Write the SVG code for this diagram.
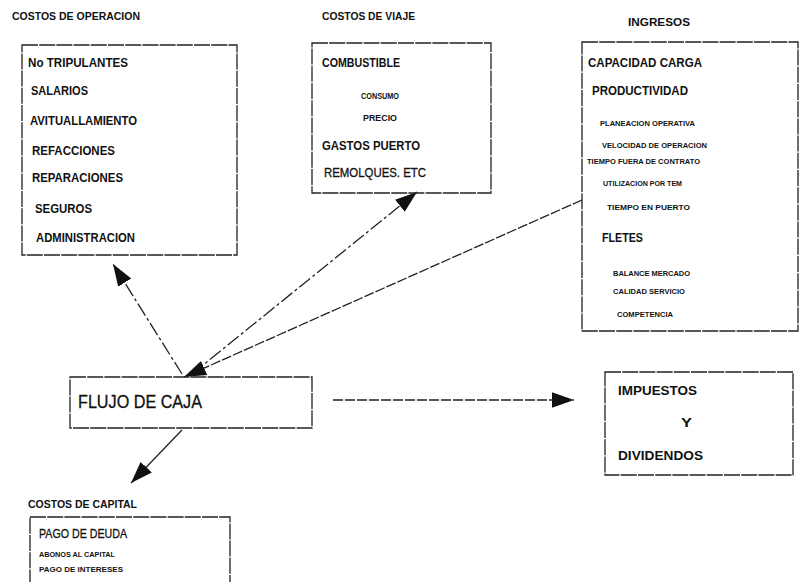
<svg xmlns="http://www.w3.org/2000/svg" width="800" height="582" viewBox="0 0 800 582">
<defs>
<style>
text{font-family:"Liberation Sans",Arial,sans-serif;fill:#111;font-weight:bold}
.t{font-size:11px}
.m{font-size:13.5px}
.s{font-size:8.5px}
.xs{font-size:7.5px}
.n{font-weight:normal;stroke:#111;stroke-width:0.3}
.box{fill:none;stroke:#222;stroke-width:1.3;stroke-dasharray:16 1.2}
.c{fill:none;stroke:#222;stroke-width:1.3}
</style>
<marker id="ah" viewBox="0 0 10 10" refX="10" refY="5" markerWidth="22" markerHeight="22" markerUnits="userSpaceOnUse" orient="auto"><path d="M0,1.5 L10,5 L0,8.5 Z" fill="#111"/></marker>
</defs>
<g id="connectors">
<path class="c" d="M182,374 L113,264" stroke-dasharray="14 3 3 3" marker-end="url(#ah)"/>
<path class="c" d="M192,374 L417,192" stroke-dasharray="14 3 3 3" marker-end="url(#ah)"/>
<path class="c" d="M582,200 L184,377" stroke-dasharray="10 2" marker-end="url(#ah)"/>
<path class="c" d="M333,400 L574,400" stroke-dasharray="10 2" marker-end="url(#ah)"/>
<path class="c" d="M182,430 L131,483" marker-end="url(#ah)"/>
</g>
<g id="costos-operacion">
<text class="t" x="12" y="20" textLength="128" lengthAdjust="spacingAndGlyphs">COSTOS DE OPERACION</text>
<rect class="box" x="22" y="45" width="215" height="210"/>
<text class="m" x="28" y="67" textLength="100" lengthAdjust="spacingAndGlyphs">No  TRIPULANTES</text>
<text class="m" x="31" y="95" textLength="57" lengthAdjust="spacingAndGlyphs">SALARIOS</text>
<text class="m" x="30" y="125" textLength="107" lengthAdjust="spacingAndGlyphs">AVITUALLAMIENTO</text>
<text class="m" x="32" y="155" textLength="83" lengthAdjust="spacingAndGlyphs">REFACCIONES</text>
<text class="m" x="32" y="182" textLength="91" lengthAdjust="spacingAndGlyphs">REPARACIONES</text>
<text class="m" x="35" y="213" textLength="57" lengthAdjust="spacingAndGlyphs">SEGUROS</text>
<text class="m" x="36" y="242" textLength="99" lengthAdjust="spacingAndGlyphs">ADMINISTRACION</text>
</g>
<g id="costos-viaje">
<text class="t" x="322" y="20" textLength="93" lengthAdjust="spacingAndGlyphs">COSTOS DE VIAJE</text>
<rect class="box" x="312" y="43" width="179" height="150"/>
<text class="m" x="322" y="67" textLength="78" lengthAdjust="spacingAndGlyphs">COMBUSTIBLE</text>
<text class="s" x="361" y="99" textLength="38" lengthAdjust="spacingAndGlyphs">CONSUMO</text>
<text class="s" x="363" y="121" textLength="34" lengthAdjust="spacingAndGlyphs">PRECIO</text>
<text class="m" x="322" y="150" textLength="98" lengthAdjust="spacingAndGlyphs">GASTOS PUERTO</text>
<text class="m n" x="324" y="177" textLength="102" lengthAdjust="spacingAndGlyphs">REMOLQUES. ETC</text>
</g>
<g id="ingresos">
<text class="t" x="628" y="26" textLength="62" lengthAdjust="spacingAndGlyphs">INGRESOS</text>
<rect class="box" x="582" y="42" width="216" height="289"/>
<text class="m" x="588" y="67" textLength="114" lengthAdjust="spacingAndGlyphs">CAPACIDAD CARGA</text>
<text class="m" x="592" y="95" textLength="96" lengthAdjust="spacingAndGlyphs">PRODUCTIVIDAD</text>
<text class="xs" x="600" y="126" textLength="95" lengthAdjust="spacingAndGlyphs">PLANEACION OPERATIVA</text>
<text class="xs" x="602" y="148" textLength="105" lengthAdjust="spacingAndGlyphs">VELOCIDAD DE OPERACION</text>
<text class="xs" x="587" y="164" textLength="113" lengthAdjust="spacingAndGlyphs">TIEMPO FUERA DE CONTRATO</text>
<text class="xs" x="603" y="186" textLength="79" lengthAdjust="spacingAndGlyphs">UTILIZACION POR TEM</text>
<text class="xs" x="607" y="210" textLength="83" lengthAdjust="spacingAndGlyphs">TIEMPO EN PUERTO</text>
<text class="m" x="602" y="242" textLength="41" lengthAdjust="spacingAndGlyphs">FLETES</text>
<text class="xs" x="613" y="276" textLength="77" lengthAdjust="spacingAndGlyphs">BALANCE MERCADO</text>
<text class="xs" x="613" y="294" textLength="72" lengthAdjust="spacingAndGlyphs">CALIDAD SERVICIO</text>
<text class="xs" x="617" y="317" textLength="56" lengthAdjust="spacingAndGlyphs">COMPETENCIA</text>
</g>
<g id="flujo-caja">
<rect class="box" x="70" y="377" width="242" height="51"/>
<text class="n" x="78" y="408" font-size="18" textLength="124" lengthAdjust="spacingAndGlyphs">FLUJO DE CAJA</text>
</g>
<g id="impuestos">
<rect class="box" x="605" y="372" width="188" height="103"/>
<text class="m" x="618" y="395" textLength="79" lengthAdjust="spacingAndGlyphs">IMPUESTOS</text>
<text class="m" x="681" y="427" textLength="11" lengthAdjust="spacingAndGlyphs">Y</text>
<text class="m" x="618" y="460" textLength="85" lengthAdjust="spacingAndGlyphs">DIVIDENDOS</text>
</g>
<g id="costos-capital">
<text class="t" x="28" y="508" textLength="109" lengthAdjust="spacingAndGlyphs">COSTOS DE CAPITAL</text>
<rect class="box" x="30" y="517" width="200" height="75"/>
<text class="m n" x="39" y="538" textLength="88" lengthAdjust="spacingAndGlyphs">PAGO DE DEUDA</text>
<text class="xs" x="39" y="557" textLength="76" lengthAdjust="spacingAndGlyphs">ABONOS AL CAPITAL</text>
<text class="xs" x="39" y="572" textLength="84" lengthAdjust="spacingAndGlyphs">PAGO DE INTERESES</text>
</g>
</svg>
